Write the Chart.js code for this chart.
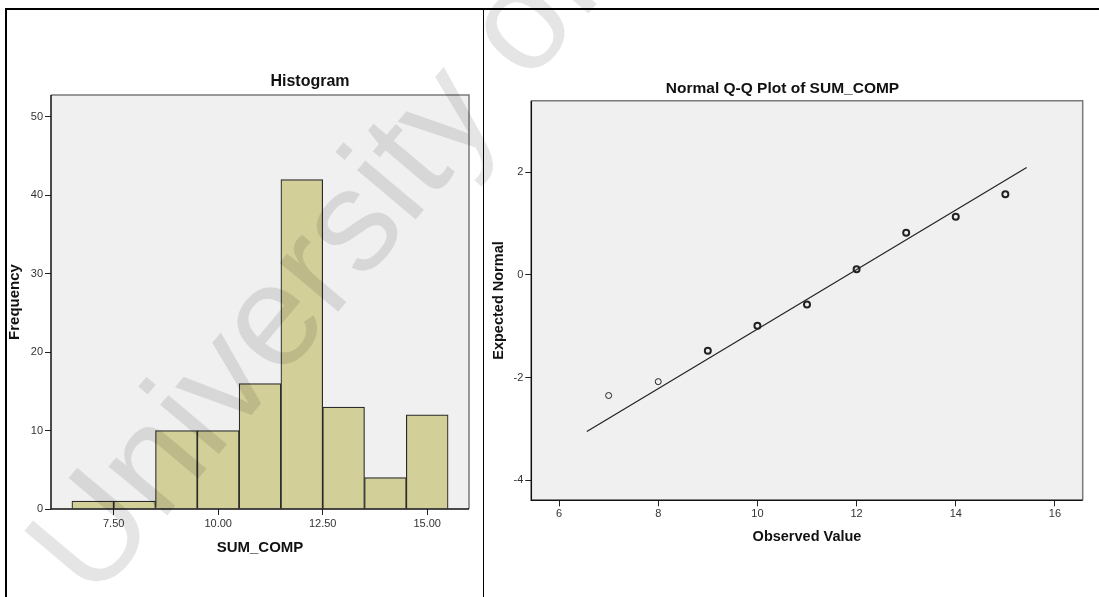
<!DOCTYPE html>
<html>
<head>
<meta charset="utf-8">
<title>SUM_COMP</title>
<script src="https://cdn.jsdelivr.net/npm/chart.js@4.4.1/dist/chart.umd.min.js"></script>
<style>
    html, body { margin: 0; padding: 0; background: #fff; }
    body { position: relative; width: 1099px; height: 597px; overflow: hidden; font-family: Arial, 'Liberation Sans', sans-serif; }
    .panel { position: absolute; top: 0; height: 597px; }
    #histPanel { left: 0; width: 483px; }
    #qqPanel { left: 484px; width: 615px; }
    .rule { position: absolute; background: #000; z-index: 3; }
    #watermark {
        position: absolute; left: 0px; top: 525px; z-index: 4;
        font: 145px Arial, 'Liberation Sans', sans-serif; line-height: 1;
        color: rgba(0, 0, 0, 0.1); white-space: nowrap; pointer-events: none;
        transform-origin: 0 0; transform: rotate(-50deg);
    }
</style>
</head>
<body>
<div class="panel" id="histPanel"><canvas id="histChart"></canvas></div>
<div class="panel" id="qqPanel"><canvas id="qqChart"></canvas></div>
<div class="rule" style="left:5px; top:8px; width:1094px; height:2px;"></div>
<div class="rule" style="left:5px; top:8px; width:2px; height:589px;"></div>
<div class="rule" style="left:483px; top:9px; width:1px; height:588px;"></div>
<div id="watermark">University of</div>

<script>
// Histograma de SUM_COMP (intervalos de ancho 1)
const histBins = [7, 8, 9, 10, 11, 12, 13, 14, 15];
const histCounts = [1, 1, 10, 10, 16, 42, 13, 4, 12];
const histTicksX = [7.5, 10, 12.5, 15];
const histTicksY = [0, 10, 20, 30, 40, 50];

// Normal Q-Q
const qqObserved = [7, 8, 9, 10, 11, 12, 13, 14, 15];
const qqExpected = [-2.35, -2.08, -1.48, -0.99, -0.58, 0.11, 0.82, 1.13, 1.57];
const qqLineX = [6.56, 15.43];
const qqLineY = [-3.05, 2.09];
const qqTicksX = [6, 8, 10, 12, 14, 16];
const qqTicksY = [-4, -2, 0, 2];

const FONT = "Arial, 'Liberation Sans', sans-serif";

// Fondo gris del area y marco superior/derecho
const plotFrame = {
    id: 'plotFrame',
    beforeDraw(chart) {
        const a = chart.chartArea;
        const ctx = chart.ctx;
        ctx.save();
        ctx.fillStyle = '#f0f0f0';
        ctx.fillRect(a.left, a.top, a.right - a.left, a.bottom - a.top);
        ctx.restore();
    },
    afterDraw(chart) {
        const a = chart.chartArea;
        const ctx = chart.ctx;
        ctx.save();
        ctx.strokeStyle = '#7a7a7a';
        ctx.lineWidth = 1.5;
        ctx.beginPath();
        ctx.moveTo(a.left, a.top);
        ctx.lineTo(a.right, a.top);
        ctx.lineTo(a.right, a.bottom);
        ctx.stroke();
        ctx.strokeStyle = '#111';
        ctx.lineWidth = 1.5;
        ctx.beginPath();
        ctx.moveTo(a.left, a.top);
        ctx.lineTo(a.left, a.bottom);
        ctx.lineTo(a.right, a.bottom);
        ctx.stroke();
        ctx.restore();
    }
};

// Titulo del panel (SPSS no lo centra sobre el area)
const panelTitle = {
    id: 'panelTitle',
    afterDraw(chart, args, opts) {
        const ctx = chart.ctx;
        ctx.save();
        ctx.font = opts.font;
        ctx.fillStyle = '#111';
        ctx.textAlign = 'center';
        ctx.textBaseline = 'middle';
        ctx.fillText(opts.text, opts.x, opts.y);
        ctx.restore();
    }
};

function axisGrid() {
    return {
        offset: false,
        drawOnChartArea: false,
        drawTicks: true,
        tickLength: 6,
        tickColor: '#222',
        tickWidth: 1
    };
}

function fixedTicks(values) {
    return (scale) => { scale.ticks = values.map(v => ({ value: v })); };
}

new Chart(document.getElementById('histChart'), {
    type: 'bar',
    data: {
        datasets: [{
            data: histBins.map((b, i) => ({ x: b, y: histCounts[i] })),
            backgroundColor: '#d3cf98',
            borderColor: '#2a2a2a',
            borderWidth: 1.2,
            barPercentage: 1,
            categoryPercentage: 1
        }]
    },
    options: {
        responsive: true,
        maintainAspectRatio: false,
        animation: false,
        layout: { padding: { left: 0, top: 95, right: 14, bottom: 40 } },
        plugins: {
            legend: { display: false },
            tooltip: { enabled: false },
            panelTitle: { text: 'Histogram', x: 310, y: 82, font: 'bold 16px ' + FONT }
        },
        scales: {
            x: {
                type: 'linear',
                min: 6,
                max: 16,
                offset: false,
                grid: axisGrid(),
                border: { display: false },
                afterBuildTicks: fixedTicks(histTicksX),
                afterFit: (s) => { s.height = 48; },
                ticks: {
                    color: '#333',
                    padding: 2,
                    font: { family: FONT, size: 11 },
                    maxRotation: 0,
                    callback: (v) => v.toFixed(2)
                },
                title: {
                    display: true,
                    text: 'SUM_COMP',
                    color: '#111',
                    padding: { top: 0, bottom: 0 },
                    font: { family: FONT, size: 15, weight: 'bold', lineHeight: 1.2 }
                }
            },
            y: {
                min: 0,
                max: 52.8,
                grid: axisGrid(),
                border: { display: false },
                afterBuildTicks: fixedTicks(histTicksY),
                afterFit: (s) => { s.width = 51; },
                ticks: {
                    color: '#333',
                    padding: 2,
                    font: { family: FONT, size: 11 }
                },
                title: {
                    display: true,
                    text: 'Frequency',
                    color: '#111',
                    padding: { top: 5.5, bottom: 0 },
                    font: { family: FONT, size: 15, weight: 'bold', lineHeight: 1.2 }
                }
            }
        }
    },
    plugins: [plotFrame, panelTitle]
});

new Chart(document.getElementById('qqChart'), {
    type: 'scatter',
    data: {
        datasets: [
            {
                type: 'scatter',
                data: qqObserved.map((x, i) => ({ x, y: qqExpected[i] })),
                pointStyle: 'circle',
                pointRadius: 3,
                backgroundColor: 'rgba(0,0,0,0)',
                borderColor: '#222',
                // los puntos con varios casos salen mas gruesos
                borderWidth: (ctx) => (histCounts[ctx.dataIndex] > 1 ? 2 : 1)
            },
            {
                type: 'line',
                data: qqLineX.map((x, i) => ({ x, y: qqLineY[i] })),
                borderColor: '#222',
                borderWidth: 1.2,
                pointRadius: 0,
                fill: false
            }
        ]
    },
    options: {
        responsive: true,
        maintainAspectRatio: false,
        animation: false,
        layout: { padding: { left: 0, top: 100.7, right: 16.3, bottom: 51 } },
        plugins: {
            legend: { display: false },
            tooltip: { enabled: false },
            panelTitle: { text: 'Normal Q-Q Plot of SUM_COMP', x: 298.5, y: 89, font: 'bold 15.5px ' + FONT }
        },
        scales: {
            x: {
                type: 'linear',
                min: 5.44,
                max: 16.56,
                grid: axisGrid(),
                border: { display: false },
                afterBuildTicks: fixedTicks(qqTicksX),
                afterFit: (s) => { s.height = 45.7; },
                ticks: {
                    color: '#333',
                    padding: 1,
                    font: { family: FONT, size: 11 },
                    maxRotation: 0
                },
                title: {
                    display: true,
                    text: 'Observed Value',
                    color: '#111',
                    padding: { top: 0, bottom: 0 },
                    font: { family: FONT, size: 14.5, weight: 'bold', lineHeight: 1.2 }
                }
            },
            y: {
                min: -4.39,
                max: 3.39,
                grid: axisGrid(),
                border: { display: false },
                afterBuildTicks: fixedTicks(qqTicksY),
                afterFit: (s) => { s.width = 47.3; },
                ticks: {
                    color: '#333',
                    padding: 2,
                    font: { family: FONT, size: 11 }
                },
                title: {
                    display: true,
                    text: 'Expected Normal',
                    color: '#111',
                    padding: { top: 5.8, bottom: 0 },
                    font: { family: FONT, size: 14.5, weight: 'bold', lineHeight: 1.2 }
                }
            }
        }
    },
    plugins: [plotFrame, panelTitle]
});
</script>
</body>
</html>
